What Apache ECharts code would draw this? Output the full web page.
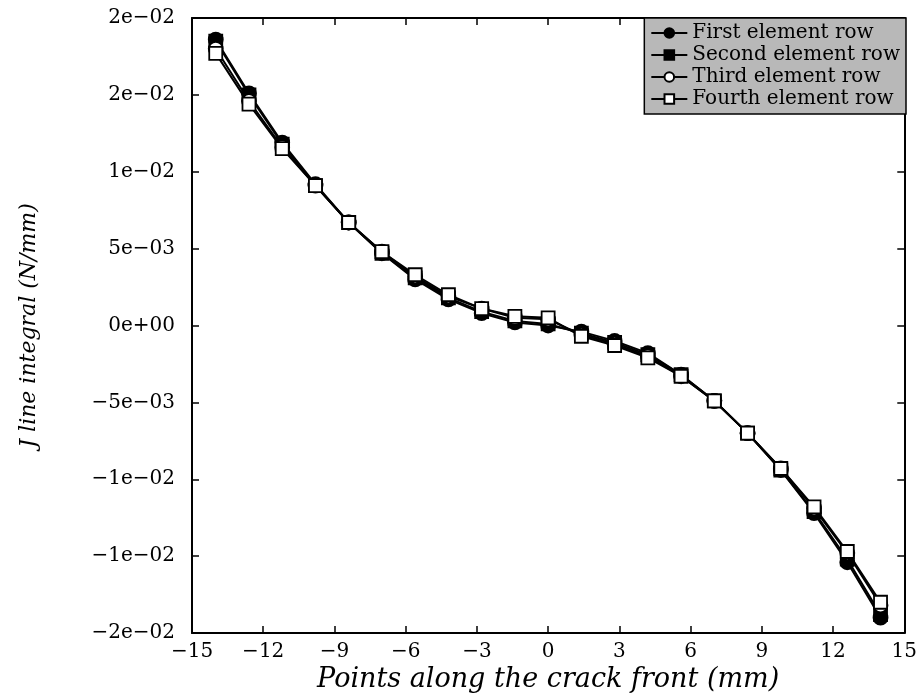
<!DOCTYPE html>
<html>
<head>
<meta charset="utf-8">
<script src="https://cdn.jsdelivr.net/npm/echarts@6/dist/echarts.min.js"></script>
<style>
html,body{margin:0;padding:0;background:#fff;}
#chart{width:920px;height:700px;}
</style>
</head>
<body>
<div id="chart"></div>
<script>
const xPoints = [-14, -12.6, -11.2, -9.8, -8.4, -7, -5.6, -4.2, -2.8, -1.4, 0, 1.4, 2.8, 4.2, 5.6, 7, 8.4, 9.8, 11.2, 12.6, 14];
const firstRow  = [0.0186, 0.0151, 0.0119, 0.0092, 0.0067, 0.0047, 0.0030, 0.0017, 0.0008, 0.0002, 0.0000, -0.0004, -0.0010, -0.0018, -0.0032, -0.0049, -0.0070, -0.0094, -0.0122, -0.0154, -0.0190];
const secondRow = [0.0185, 0.0150, 0.0118, 0.0091, 0.0067, 0.0047, 0.0031, 0.0018, 0.0009, 0.0003, 0.0001, -0.0005, -0.0011, -0.0019, -0.0032, -0.0049, -0.0070, -0.0094, -0.0121, -0.0152, -0.0188];
const thirdRow  = [0.0180, 0.0146, 0.0116, 0.0091, 0.0067, 0.0048, 0.0032, 0.0019, 0.0011, 0.0005, 0.0004, -0.0006, -0.0012, -0.0020, -0.0033, -0.0049, -0.0070, -0.0093, -0.0119, -0.0148, -0.0182];
const fourthRow = [0.0177, 0.0144, 0.0115, 0.0091, 0.0067, 0.0048, 0.0033, 0.0020, 0.0011, 0.0006, 0.0005, -0.0007, -0.0013, -0.0021, -0.0033, -0.0049, -0.0070, -0.0093, -0.0118, -0.0147, -0.0180];
const seriesNames = ['First element row', 'Second element row', 'Third element row', 'Fourth element row'];
const yTickLabels = ['−2e−02', '−1e−02', '−1e−02', '−5e−03', '0e+00', '5e−03', '1e−02', '2e−02', '2e−02'];
const xTickLabels = ['−15', '−12', '−9', '−6', '−3', '0', '3', '6', '9', '12', '15'];

const FONT = 'DejaVu Serif';
const pairs = arr => xPoints.map((x, i) => [x, arr[i]]);

const chart = echarts.init(document.getElementById('chart'), null, {renderer: 'canvas'});

function mkSeries(name, data, symbol, filled, z) {
  return {
    name: name,
    type: 'line',
    data: pairs(data),
    symbol: symbol,
    symbolSize: symbol === 'rect' ? 13 : 14,
    showAllSymbol: true,
    z: z,
    lineStyle: {color: '#000', width: 2},
    itemStyle: {color: filled ? '#000' : '#fff', borderColor: '#000', borderWidth: 1.8},
    emphasis: {disabled: true},
    animation: false
  };
}

const axisCommon = {
  axisLine: {show: true, onZero: false, lineStyle: {color: '#000', width: 2}},
  axisTick: {show: true, inside: true, length: 7, lineStyle: {color: '#000', width: 1.5}},
  splitLine: {show: false}
};

chart.setOption({
  animation: false,
  backgroundColor: '#fff',
  grid: {left: 192, right: 15, top: 18, bottom: 67, containLabel: false},
  legend: {
    orient: 'vertical',
    right: 14,
    top: 18,
    itemGap: 2,
    itemWidth: 36,
    itemHeight: 12,
    padding: [5, 6, 5, 6],
    backgroundColor: '#b8b8b8',
    borderColor: '#000',
    borderWidth: 1.5,
    borderRadius: 0,
    textStyle: {fontFamily: FONT, fontSize: 20, color: '#000'},
    data: seriesNames
  },
  xAxis: [
    Object.assign({}, axisCommon, {
      type: 'value', min: -15, max: 15, interval: 3, position: 'bottom',
      name: 'Points along the crack front (mm)', nameLocation: 'middle', nameGap: 32,
      nameTextStyle: {fontFamily: FONT, fontStyle: 'italic', fontSize: 27, color: '#000'},
      axisLabel: {
        fontFamily: FONT, fontSize: 20, color: '#000', margin: 9,
        formatter: v => xTickLabels[Math.round((v + 15) / 3)]
      }
    }),
    Object.assign({}, axisCommon, {
      type: 'value', min: -15, max: 15, interval: 3, position: 'top',
      axisLabel: {show: false}
    })
  ],
  yAxis: [
    Object.assign({}, axisCommon, {
      type: 'value', min: -0.02, max: 0.02, interval: 0.005, position: 'left',
      name: 'J line integral (N/mm)', nameLocation: 'middle', nameGap: 152,
      nameTextStyle: {fontFamily: FONT, fontStyle: 'italic', fontSize: 22, color: '#000'},
      axisLabel: {
        fontFamily: FONT, fontSize: 20, color: '#000', margin: 17,
        formatter: v => yTickLabels[Math.round((v + 0.02) / 0.005)]
      }
    }),
    Object.assign({}, axisCommon, {
      type: 'value', min: -0.02, max: 0.02, interval: 0.005, position: 'right',
      axisLabel: {show: false}
    })
  ],
  series: [
    mkSeries(seriesNames[0], firstRow, 'circle', true, 2),
    mkSeries(seriesNames[1], secondRow, 'rect', true, 3),
    mkSeries(seriesNames[2], thirdRow, 'circle', false, 4),
    mkSeries(seriesNames[3], fourthRow, 'rect', false, 5)
  ]
});
</script>
</body>
</html>
